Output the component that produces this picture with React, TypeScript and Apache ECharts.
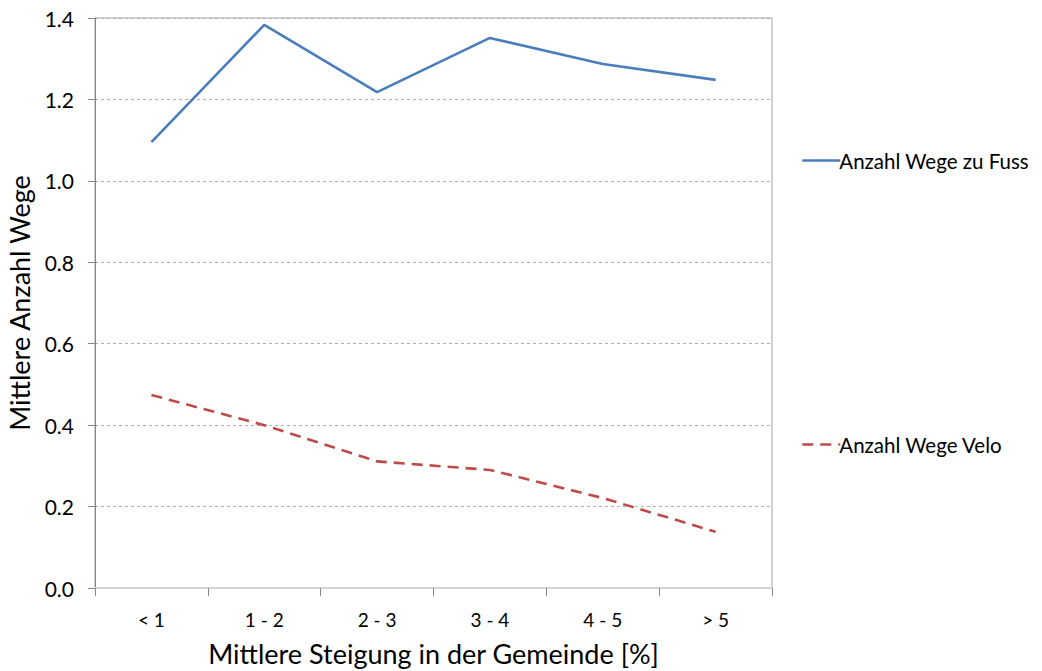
import React, { useEffect, useRef } from "react";
import * as echarts from "echarts";

const categories = ["< 1", "1 - 2", "2 - 3", "3 - 4", "4 - 5", "> 5"];
const fussValues = [1.095, 1.383, 1.218, 1.351, 1.287, 1.248];
const veloValues = [0.474, 0.4, 0.311, 0.29, 0.221, 0.138];
const yTicks = { min: 0, max: 1.4, interval: 0.2 };
const seriesNames = ["Anzahl Wege zu Fuss", "Anzahl Wege Velo"];
const seriesColors = ["#4a7ebb", "#be4b48"];
const axisNames = { x: "Mittlere Steigung in der Gemeinde [%]", y: "Mittlere Anzahl Wege" };

const FONT = "Lato, 'Open Sans', sans-serif";

export default function App() {
  const ref = useRef<HTMLDivElement>(null);
  useEffect(() => {
    if (!ref.current) return;
    const chart = echarts.init(ref.current, undefined, { renderer: "svg" });
    const legendCommon = {
      left: 796,
      itemWidth: 38,
      itemHeight: 14,
      itemGap: 4,
      itemStyle: { opacity: 0 },
      textStyle: { fontFamily: FONT, fontSize: 20.5, color: "#000", padding: [0, 0, 0, -6] },
    };
    chart.setOption({
      animation: false,
      backgroundColor: "#ffffff",
      textStyle: { fontFamily: FONT, color: "#000" },
      grid: {
        left: 95,
        top: 18,
        right: 270,
        bottom: 83,
        containLabel: false,
        outerBoundsMode: "none",
        show: true,
        borderColor: "#a6a6a6",
        borderWidth: 1,
      },
      legend: [
        {
          ...legendCommon,
          data: [seriesNames[0]],
          top: 145,
          lineStyle: { color: seriesColors[0], width: 2.6, type: "solid" },
        },
        {
          ...legendCommon,
          data: [seriesNames[1]],
          top: 429,
          lineStyle: { color: seriesColors[1], width: 2.6, type: [11, 7] },
        },
      ],
      xAxis: {
        type: "category",
        data: categories,
        boundaryGap: true,
        name: axisNames.x,
        nameLocation: "middle",
        nameGap: 52,
        nameTextStyle: { fontFamily: FONT, fontSize: 27, color: "#000" },
        axisLine: { lineStyle: { color: "#d4d4d4", width: 2 } },
        axisTick: { show: true, length: 8, alignWithLabel: false, lineStyle: { color: "#868686" } },
        axisLabel: { fontFamily: FONT, fontSize: 19, color: "#000", margin: 22 },
        splitLine: { show: false },
      },
      yAxis: {
        type: "value",
        min: yTicks.min,
        max: yTicks.max,
        interval: yTicks.interval,
        name: axisNames.y,
        nameLocation: "middle",
        nameGap: 62,
        nameTextStyle: { fontFamily: FONT, fontSize: 27, color: "#000" },
        axisLine: { show: true, lineStyle: { color: "#868686", width: 1 } },
        axisTick: { show: true, length: 7, lineStyle: { color: "#868686" } },
        axisLabel: {
          fontFamily: FONT,
          fontSize: 21,
          color: "#000",
          margin: 21,
          formatter: (v: number) => v.toFixed(1),
        },
        splitLine: { show: true, lineStyle: { color: "#b0b0b0", type: [3, 3], width: 1 } },
      },
      series: [
        {
          name: seriesNames[0],
          type: "line",
          data: fussValues,
          symbol: "none",
          lineStyle: { color: seriesColors[0], width: 2.6 },
          itemStyle: { color: seriesColors[0] },
        },
        {
          name: seriesNames[1],
          type: "line",
          data: veloValues,
          symbol: "none",
          lineStyle: { color: seriesColors[1], width: 2.6, type: [11, 7] },
          itemStyle: { color: seriesColors[1] },
        },
      ],
    });
    return () => chart.dispose();
  }, []);
  return (
    <div
      ref={ref}
      style={{ position: "fixed", left: 0, top: 0, width: 1042, height: 671, background: "#fff" }}
    />
  );
}
